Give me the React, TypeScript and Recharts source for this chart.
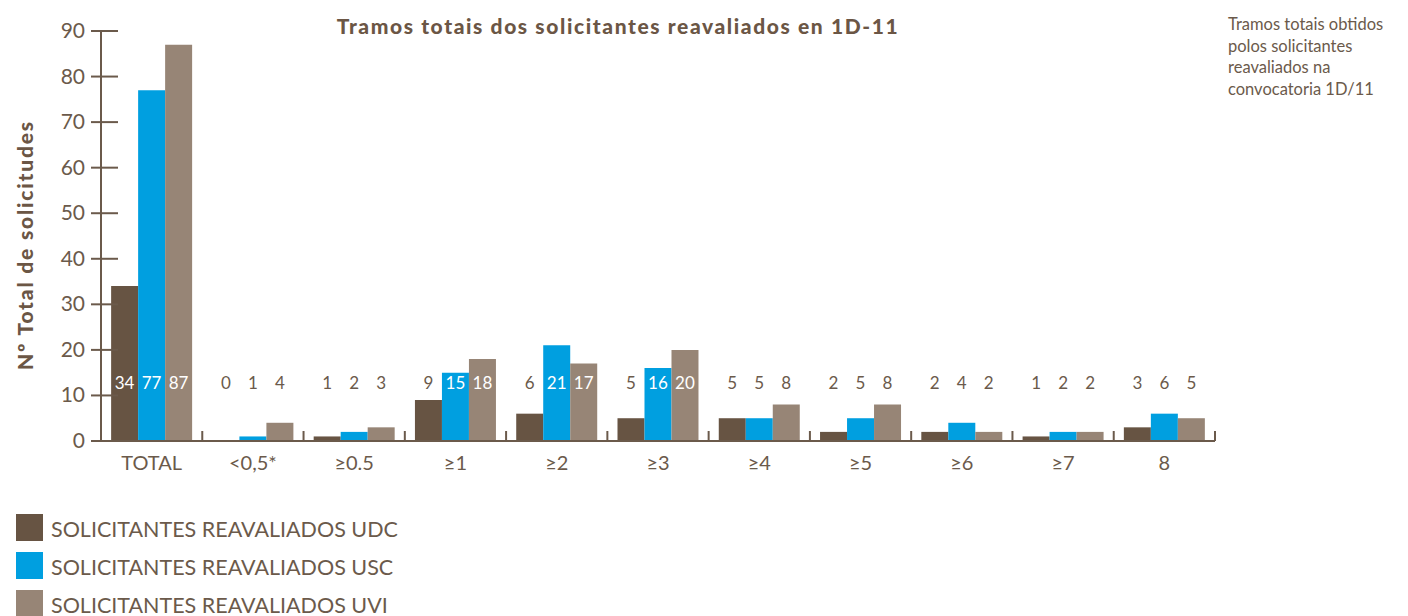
import React from "react";
import { BarChart, Bar, XAxis, YAxis, LabelList, Rectangle } from "recharts";

const categories = ["TOTAL", "<0,5*", "≥0.5", "≥1", "≥2", "≥3", "≥4", "≥5", "≥6", "≥7", "8"];
const udc = [34, 0, 1, 9, 6, 5, 5, 2, 2, 1, 3];
const usc = [77, 1, 2, 15, 21, 16, 5, 5, 4, 2, 6];
const uvi = [87, 4, 3, 18, 17, 20, 8, 8, 2, 2, 5];
const yTicks = [0, 10, 20, 30, 40, 50, 60, 70, 80, 90];
const seriesNames = [
  "SOLICITANTES REAVALIADOS UDC",
  "SOLICITANTES REAVALIADOS USC",
  "SOLICITANTES REAVALIADOS UVI",
];
const LABEL_LEVEL = 12.7;

const data = categories.map((c, i) => ({ name: c, udc: udc[i], usc: usc[i], uvi: uvi[i] }));

const BROWN = "#675443";
const BLUE = "#009fe0";
const TAUPE = "#978576";
const AXIS = "#6b5a4b";
const FONT = "Lato, 'Open Sans', sans-serif";

const YTick = (props: any) => {
  const { x, y, payload } = props;
  return (
    <g>
      <text x={x} y={y} dy={7} textAnchor="end" fill={AXIS} fontSize={21} fontWeight={400} fontFamily={FONT}>
        {payload.value}
      </text>
      <line x1={x + 6} x2={x + 33} y1={y} y2={y} stroke={AXIS} strokeWidth={2} />
    </g>
  );
};

const XTick = (props: any) => {
  const { x, y, payload } = props;
  const half = payload.offset ?? 50.6;
  return (
    <g>
      <text x={x} y={y} dy={29} textAnchor="middle" fill={AXIS} fontSize={20} fontWeight={400} fontFamily={FONT}>
        {payload.value}
      </text>
      <line x1={x + half} x2={x + half} y1={y - 10} y2={y} stroke={AXIS} strokeWidth={2} />
    </g>
  );
};

const makeLabel = (unit: number) => (props: any) => {
  const { x, y, width, height, value } = props;
  const bottom = y + height;
  const labelY = bottom - LABEL_LEVEL * unit;
  const covered = value > LABEL_LEVEL + 1;
  return (
    <text
      x={x + width / 2}
      y={labelY}
      dy={6}
      textAnchor="middle"
      fill={covered ? "#ffffff" : AXIS}
      fontSize={17}
      fontWeight={400}
      fontFamily={FONT}
    >
      {value}
    </text>
  );
};

const BarShape = (props: any) => {
  const { value } = props;
  const v = Array.isArray(value) ? value[1] - value[0] : value;
  if (!v) return <g />;
  return <Rectangle {...props} />;
};

export default function App() {
  const plotTop = 31;
  const plotBottom = 441;
  const unit = (plotBottom - plotTop) / 90;
  const Label = makeLabel(unit);
  const colors = [BROWN, BLUE, TAUPE];
  const keys = ["udc", "usc", "uvi"];
  return (
    <div style={{ position: "absolute", left: 0, top: 0, width: 1408, height: 616, background: "#fff", fontFamily: FONT, overflow: "hidden" }}>
      <BarChart
        width={1408}
        height={616}
        data={data}
        margin={{ top: plotTop, right: 193, left: 41, bottom: 616 - plotBottom - 30 }}
        barCategoryGap="10%"
        barGap={0}
      >
        <YAxis
          width={60}
          domain={[0, 90]}
          ticks={yTicks}
          interval={0}
          tickLine={false}
          tickSize={0}
          tickMargin={16}
          axisLine={{ stroke: AXIS, strokeWidth: 2 }}
          tick={<YTick />}
        />
        <XAxis
          dataKey="name"
          height={30}
          interval={0}
          tickLine={false}
          tickSize={0}
          tickMargin={0}
          axisLine={{ stroke: AXIS, strokeWidth: 2 }}
          tick={<XTick />}
        />
        {keys.map((k, i) => (
          <Bar key={k} dataKey={k} fill={colors[i]} isAnimationActive={false} minPointSize={1} shape={<BarShape />}>
            <LabelList dataKey={k} content={Label} />
          </Bar>
        ))}
      </BarChart>
      <div style={{ position: "absolute", left: 0, width: 1236, top: 13, textAlign: "center", fontWeight: 900, fontSize: 21, letterSpacing: 1.6, color: "#6b5645", fontFamily: FONT }}>
        Tramos totais dos solicitantes reavaliados en 1D-11
      </div>
      <div
        style={{
          position: "absolute",
          left: 24,
          top: 245,
          transform: "translate(-50%, -50%) rotate(-90deg)",
          whiteSpace: "nowrap",
          fontWeight: 900,
          fontSize: 21,
          letterSpacing: 1.8,
          color: "#6b5645",
          fontFamily: FONT,
        }}
      >
        Nº Total de solicitudes
      </div>
      <div style={{ position: "absolute", left: 1228, top: 14, fontSize: 16.5, lineHeight: "21.5px", color: AXIS, fontFamily: FONT }}>
        Tramos totais obtidos
        <br />
        polos solicitantes
        <br />
        reavaliados na
        <br />
        convocatoria 1D/11
      </div>
      {seriesNames.map((n, i) => (
        <div key={n} style={{ position: "absolute", left: 16, top: 514 + i * 38, height: 27, display: "flex", alignItems: "center" }}>
          <div style={{ width: 27, height: 27, background: colors[i] }} />
          <span style={{ marginLeft: 8, marginTop: 3, fontSize: 21.5, fontWeight: 400, color: AXIS, fontFamily: FONT, whiteSpace: "nowrap" }}>{n}</span>
        </div>
      ))}
    </div>
  );
}
